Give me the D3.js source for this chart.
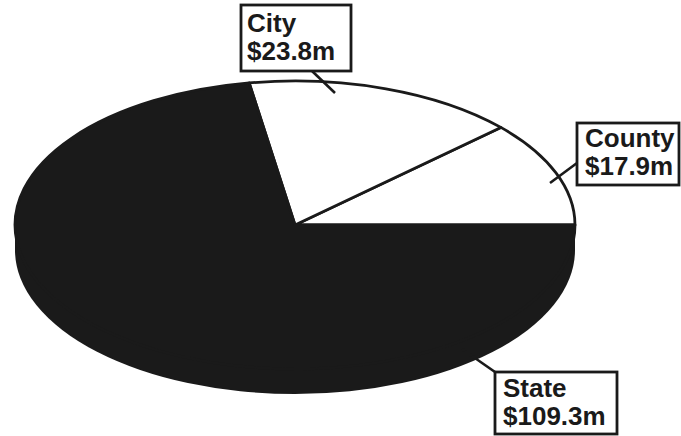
<!DOCTYPE html>
<html>
<head>
<meta charset="utf-8">
<script src="https://cdn.jsdelivr.net/npm/d3@7"></script>
<style>
  html, body { margin: 0; padding: 0; background: #fff; }
  svg { display: block; }
</style>
</head>
<body>
<svg id="chart" width="681" height="436"></svg>
<script>
// Revenue sources, in millions of dollars
const categories = ["County", "City", "State"];
const amounts = [17.9, 23.8, 109.3];
const fills = ["#ffffff", "#ffffff", "#1a1a1a"];

const ink = "#1a1a1a";
const W = 681, H = 436;
const cx = 295, cy = 225;      // centre of the top face
const rx = 280, ry = 144;      // radii of the top face
const depth = 25;              // thickness of the disc

// Label boxes: box rectangle, text inset and leader line (from slice to box)
const labelLayout = {
  County: { x: 577, y: 123, w: 102, h: 62, tx: 8, l1: 24, l2: 52, lead: [[550, 183], [577, 163]] },
  City:   { x: 241, y: 5,   w: 110, h: 66, tx: 6, l1: 27, l2: 55, lead: [[335, 93], [312, 71]] },
  State:  { x: 495, y: 372, w: 122, h: 62, tx: 8, l1: 25, l2: 53, lead: [[462, 349], [495, 372]] }
};

const data = categories.map((c, i) => ({ name: c, value: amounts[i], fill: fills[i] }));

const svg = d3.select("#chart");
svg.append("rect").attr("width", W).attr("height", H).attr("fill", "#fff");

// Side of the disc (front half only is visible)
svg.append("path")
  .attr("d", `M${cx - rx},${cy} L${cx - rx},${cy + depth} ` +
             `A${rx},${ry} 0 0 0 ${cx + rx},${cy + depth} L${cx + rx},${cy} Z`)
  .attr("fill", ink);

// Pie starts at 3 o'clock and runs counter-clockwise
const pie = d3.pie()
  .sort(null)
  .value(d => d.value)
  .startAngle(Math.PI / 2)
  .endAngle(Math.PI / 2 - 2 * Math.PI);

const arc = d3.arc().innerRadius(0).outerRadius(ry);

const face = svg.append("g")
  .attr("transform", `translate(${cx},${cy}) scale(${rx / ry},1)`);

face.selectAll("path.slice")
  .data(pie(data))
  .join("path")
  .attr("class", "slice")
  .attr("d", arc)
  .attr("fill", d => d.data.fill)
  .attr("stroke", ink)
  .attr("stroke-width", 2.8)
  .attr("stroke-linejoin", "round")
  .attr("vector-effect", "non-scaling-stroke");

// Leader lines and labels
const labels = svg.append("g");
data.forEach(d => {
  const L = labelLayout[d.name];
  labels.append("line")
    .attr("x1", L.lead[0][0]).attr("y1", L.lead[0][1])
    .attr("x2", L.lead[1][0]).attr("y2", L.lead[1][1])
    .attr("stroke", ink).attr("stroke-width", 2.6);
  labels.append("rect")
    .attr("x", L.x).attr("y", L.y).attr("width", L.w).attr("height", L.h)
    .attr("fill", "#fff").attr("stroke", ink).attr("stroke-width", 2.8);
  const t = labels.append("text")
    .attr("font-family", "'Liberation Sans', Arial, sans-serif")
    .attr("font-weight", "bold")
    .attr("font-size", 26)
    .attr("fill", ink);
  t.append("tspan").attr("x", L.x + L.tx).attr("y", L.y + L.l1).text(d.name);
  t.append("tspan").attr("x", L.x + L.tx).attr("y", L.y + L.l2).text(`$${d.value}m`);
});
</script>
</body>
</html>
